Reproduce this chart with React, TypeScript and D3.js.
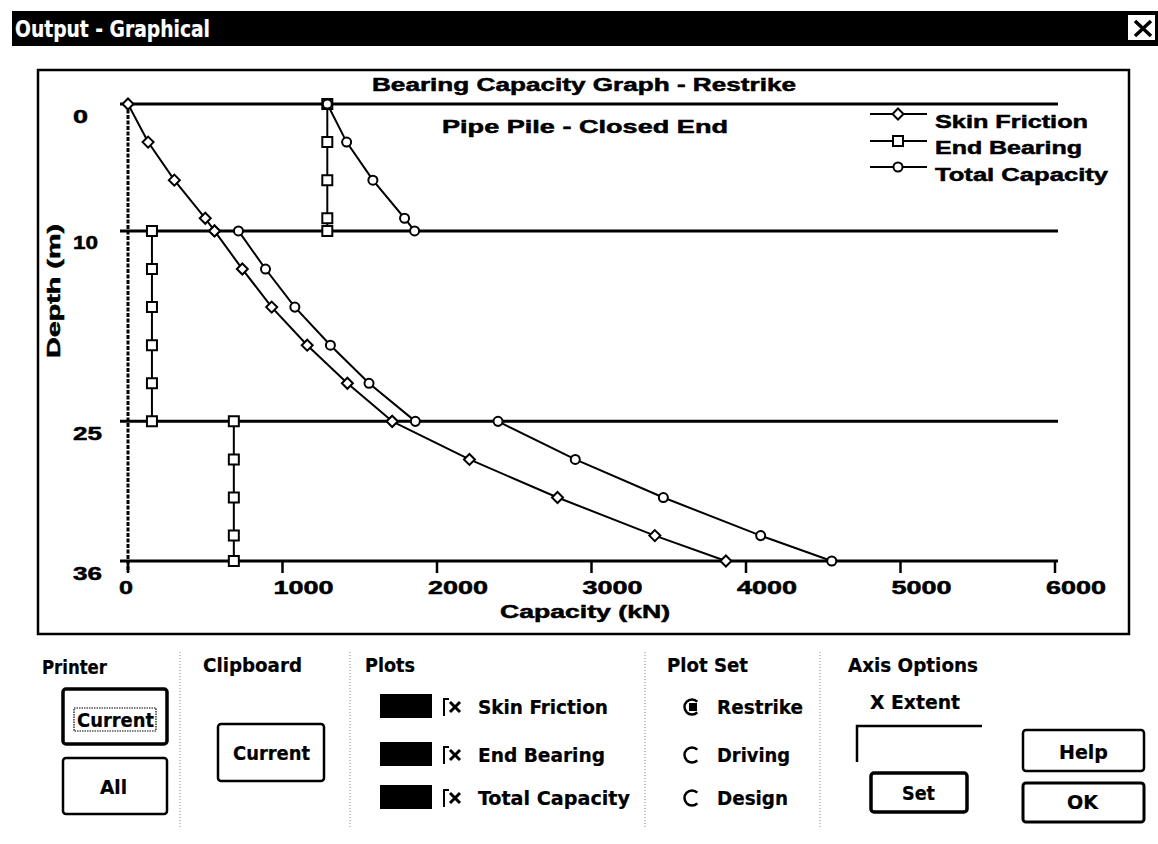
import React, { useRef, useEffect } from "react";
import * as d3 from "d3";

// depth boundaries of the soil layers and capacity ticks
const depthTicks = [0, 10, 25, 36];
const capacityTicks = [0, 1000, 2000, 3000, 4000, 5000, 6000];

// sample depths per layer (m)
const depths1 = [0, 3, 6, 9, 10];
const depths2 = [10, 13, 16, 19, 22, 25];
const depths3 = [25, 28, 31, 34, 36];

// capacities (kN)
const skinFriction1 = [0, 130, 300, 500, 560];
const skinFriction2 = [560, 740, 930, 1160, 1420, 1710];
const skinFriction3 = [1710, 2210, 2780, 3410, 3870];

const endBearing1 = [1290, 1290, 1290, 1290, 1290];
const endBearing2 = [155, 155, 155, 155, 155, 155];
const endBearing3 = [685, 685, 685, 685, 685];

const totalCapacity1 = [1290, 1415, 1585, 1790, 1855];
const totalCapacity2 = [715, 890, 1080, 1310, 1560, 1860];
const totalCapacity3 = [2395, 2895, 3465, 4095, 4555];

const seriesNames = ["Skin Friction", "End Bearing", "Total Capacity"];
const plotSets = ["Restrike", "Driving", "Design"];

const CHART_FONT = "'Liberation Sans', Arial, sans-serif";
const UI_FONT = "'DejaVu Sans Condensed', 'Liberation Sans Narrow', 'Liberation Sans', sans-serif";

type Sel = d3.Selection<SVGGElement, unknown, null, undefined>;

// text with a fixed drawn width (the scanned dialog font is much wider than Arial)
const label = (
  g: Sel,
  text: string,
  x: number,
  y: number,
  w: number,
  size = 18,
  family = CHART_FONT,
  fill = "#000"
) =>
  g
    .append("text")
    .attr("x", x)
    .attr("y", y)
    .attr("dominant-baseline", "central")
    .attr("font-family", family)
    .attr("font-weight", "bold")
    .attr("font-size", size)
    .attr("fill", fill)
    .attr("stroke", fill)
    .attr("stroke-width", family === CHART_FONT ? 0.5 : 0.2)
    .attr("textLength", w)
    .attr("lengthAdjust", "spacingAndGlyphs")
    .text(text);

const markerPath = (kind: string) => {
  if (kind === "diamond") return "M0,-5.5L5.5,0L0,5.5L-5.5,0Z";
  if (kind === "square") return "M-5,-5H5V5H-5Z";
  return d3.symbol().type(d3.symbolCircle).size(64)() as string;
};

const App = () => {
  const ref = useRef<SVGSVGElement>(null);

  useEffect(() => {
    if (!ref.current) return;
    const svg = d3.select(ref.current);
    svg.selectAll("*").remove();
    const root = svg.append("g") as Sel;

    const x = d3.scaleLinear().domain([0, 6000]).range([128, 1055]);
    const y = d3.scaleLinear().domain([0, 36]).range([104, 561]);

    // window title bar
    root.append("rect").attr("x", 12).attr("y", 11).attr("width", 1146).attr("height", 35).attr("fill", "#000");
    label(root, "Output - Graphical", 15, 29, 195, 23, UI_FONT, "#fff");
    root.append("rect").attr("x", 1128).attr("y", 15).attr("width", 27).attr("height", 25).attr("fill", "#fff");
    root
      .append("path")
      .attr("d", "M1135,21L1151,36M1151,21L1135,36")
      .attr("stroke", "#000")
      .attr("stroke-width", 3.5);

    // chart frame
    root
      .append("rect")
      .attr("x", 38)
      .attr("y", 70)
      .attr("width", 1091)
      .attr("height", 564)
      .attr("fill", "#fff")
      .attr("stroke", "#000")
      .attr("stroke-width", 2.5);

    label(root, "Bearing Capacity Graph - Restrike", 372, 85, 424);
    label(root, "Pipe Pile - Closed End", 442, 127, 286);

    // layer boundary lines
    root
      .append("g")
      .selectAll("line")
      .data(depthTicks)
      .join("line")
      .attr("x1", 120)
      .attr("x2", 1058)
      .attr("y1", (d) => y(d))
      .attr("y2", (d) => y(d))
      .attr("stroke", "#000")
      .attr("stroke-width", 3);

    // y axis (beaded line)
    root
      .append("line")
      .attr("x1", x(0))
      .attr("x2", x(0))
      .attr("y1", y(0))
      .attr("y2", y(36) + 11)
      .attr("stroke", "#000")
      .attr("stroke-width", 3)
      .attr("stroke-dasharray", "4,1.5");

    // x ticks
    root
      .append("g")
      .selectAll("line")
      .data(capacityTicks)
      .join("line")
      .attr("x1", (d) => x(d))
      .attr("x2", (d) => x(d))
      .attr("y1", y(36))
      .attr("y2", y(36) + 12)
      .attr("stroke", "#000")
      .attr("stroke-width", 2.5);

    const axisLabels = root.append("g") as Sel;
    capacityTicks.forEach((t) => {
      const s = String(t);
      label(axisLabels, s, x(t) - 9, 588, s.length === 1 ? 14 : 60);
    });
    depthTicks.forEach((t) => {
      const s = String(t);
      const w = s.length === 1 ? 15 : s[0] === "1" ? 25 : 29;
      label(axisLabels, s, 73, y(t) + 12.5, w);
    });
    label(axisLabels, "Capacity (kN)", 500, 612, 170);
    const yTitle = axisLabels.append("g").attr("transform", "translate(54,291) rotate(-90)") as Sel;
    label(yTitle, "Depth (m)", -67, 0, 134);

    // series
    const series = [
      { name: seriesNames[0], marker: "diamond", depths: [depths1, depths2, depths3], values: [skinFriction1, skinFriction2, skinFriction3] },
      { name: seriesNames[1], marker: "square", depths: [depths1, depths2, depths3], values: [endBearing1, endBearing2, endBearing3] },
      { name: seriesNames[2], marker: "circle", depths: [depths1, depths2, depths3], values: [totalCapacity1, totalCapacity2, totalCapacity3] },
    ];

    const line = d3
      .line<[number, number]>()
      .x((d) => x(d[1]))
      .y((d) => y(d[0]));

    const plot = root.append("g") as Sel;
    series.forEach((s) => {
      s.depths.forEach((ds, i) => {
        const pts = ds.map((d, j) => [d, s.values[i][j]] as [number, number]);
        plot
          .append("path")
          .datum(pts)
          .attr("fill", "none")
          .attr("stroke", "#000")
          .attr("stroke-width", 2)
          .attr("d", line);
      });
    });
    series.forEach((s) => {
      s.depths.forEach((ds, i) => {
        const pts = ds.map((d, j) => [d, s.values[i][j]] as [number, number]);
        plot
          .append("g")
          .selectAll("path")
          .data(pts)
          .join("path")
          .attr("transform", (d) => `translate(${x(d[1])},${y(d[0])})`)
          .attr("d", markerPath(s.marker))
          .attr("fill", "#fff")
          .attr("stroke", "#000")
          .attr("stroke-width", 2);
      });
    });

    // legend
    const legend = root.append("g") as Sel;
    const legendRows = [
      { lineY: 114, textY: 122, w: 153 },
      { lineY: 141, textY: 148, w: 147 },
      { lineY: 167, textY: 175, w: 173 },
    ];
    series.forEach((s, i) => {
      const r = legendRows[i];
      legend
        .append("line")
        .attr("x1", 870)
        .attr("x2", 927)
        .attr("y1", r.lineY)
        .attr("y2", r.lineY)
        .attr("stroke", "#000")
        .attr("stroke-width", 2);
      legend
        .append("path")
        .attr("transform", `translate(898,${r.lineY})`)
        .attr("d", markerPath(s.marker))
        .attr("fill", "#fff")
        .attr("stroke", "#000")
        .attr("stroke-width", 2);
      label(legend, s.name, 935, r.textY, r.w);
    });

    // dialog controls below the chart
    const ui = root.append("g") as Sel;
    [180, 350, 645, 820].forEach((sx) =>
      ui
        .append("line")
        .attr("x1", sx)
        .attr("x2", sx)
        .attr("y1", 652)
        .attr("y2", 828)
        .attr("stroke", "#888")
        .attr("stroke-width", 1)
        .attr("stroke-dasharray", "1,2")
    );

    const button = (bx: number, by: number, bw: number, bh: number, sw: number) =>
      ui
        .append("rect")
        .attr("x", bx)
        .attr("y", by)
        .attr("width", bw)
        .attr("height", bh)
        .attr("rx", 3)
        .attr("fill", "#fff")
        .attr("stroke", "#000")
        .attr("stroke-width", sw);

    label(ui, "Printer", 42, 667, 65, 19, UI_FONT);
    button(63, 689, 104, 55, 3.5);
    ui.append("rect")
      .attr("x", 74)
      .attr("y", 708)
      .attr("width", 82)
      .attr("height", 23)
      .attr("fill", "none")
      .attr("stroke", "#000")
      .attr("stroke-width", 1.2)
      .attr("stroke-dasharray", "1.5,1");
    label(ui, "Current", 77, 720, 77, 19, UI_FONT);
    button(63, 758, 104, 56, 2.5);
    label(ui, "All", 100, 787, 27, 19, UI_FONT);

    label(ui, "Clipboard", 203, 665, 99, 19, UI_FONT);
    button(218, 724, 106, 57, 2.5);
    label(ui, "Current", 233, 753, 77, 19, UI_FONT);

    label(ui, "Plots", 365, 665, 50, 19, UI_FONT);
    const rowY = [707, 755, 798];
    seriesNames.forEach((n, i) => {
      const cy = rowY[i];
      ui.append("rect").attr("x", 380).attr("y", cy - 13).attr("width", 52).attr("height", 24).attr("fill", "#000");
      ui.append("path")
        .attr("d", `M444,${cy + 9}V${cy - 8}H449`)
        .attr("fill", "none")
        .attr("stroke", "#000")
        .attr("stroke-width", 2);
      ui.append("path")
        .attr("d", `M450,${cy - 5}L460,${cy + 5}M460,${cy - 5}L450,${cy + 5}`)
        .attr("stroke", "#000")
        .attr("stroke-width", 3);
      label(ui, n, 478, cy, [130, 127, 152][i], 19, UI_FONT);
    });

    label(ui, "Plot Set", 667, 665, 81, 19, UI_FONT);
    plotSets.forEach((n, i) => {
      const cy = rowY[i];
      const r = 7.5;
      const a = Math.SQRT1_2 * r;
      ui.append("path")
        .attr("d", `M${692 + a},${cy - a}A${r},${r} 0 1 0 ${692 + a},${cy + a}`)
        .attr("fill", "none")
        .attr("stroke", "#000")
        .attr("stroke-width", 2.5);
      if (i === 0) ui.append("rect").attr("x", 689).attr("y", cy - 4).attr("width", 8).attr("height", 8).attr("fill", "#000");
      label(ui, n, 717, cy, [86, 73, 71][i], 19, UI_FONT);
    });

    label(ui, "Axis Options", 848, 665, 130, 19, UI_FONT);
    label(ui, "X Extent", 870, 702, 90, 19, UI_FONT);
    ui.append("path")
      .attr("d", "M857,762V726H982")
      .attr("fill", "none")
      .attr("stroke", "#000")
      .attr("stroke-width", 2.5);
    button(871, 773, 96, 39, 3.5);
    label(ui, "Set", 902, 793, 33, 19, UI_FONT);

    button(1023, 730, 121, 41, 2.5);
    label(ui, "Help", 1059, 752, 49, 19, UI_FONT);
    button(1023, 783, 121, 39, 3);
    label(ui, "OK", 1067, 802, 31, 19, UI_FONT);
  }, []);

  return (
    <svg
      ref={ref}
      width={1158}
      height={844}
      style={{ position: "absolute", left: 0, top: 0, display: "block", background: "#fff" }}
    />
  );
};

export default App;
